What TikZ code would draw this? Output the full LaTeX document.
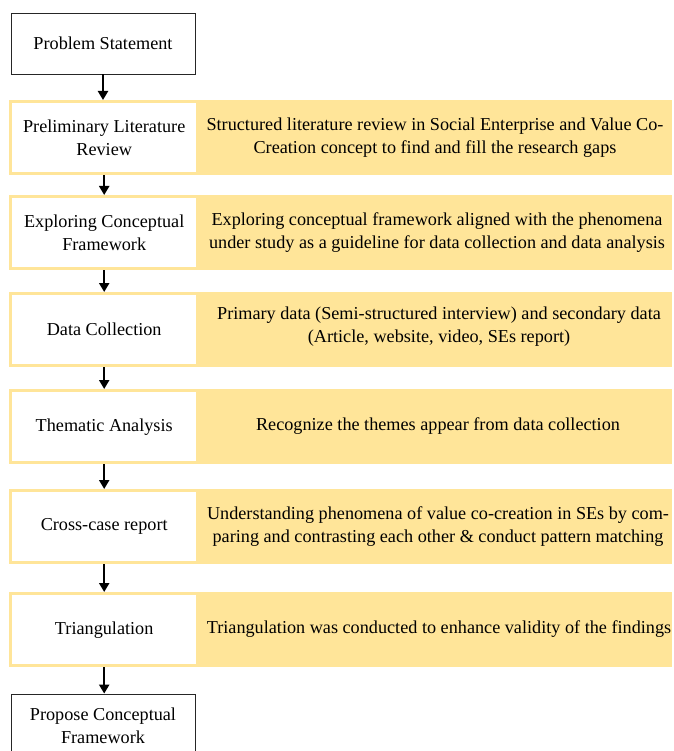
\documentclass[tikz,border=0pt]{standalone}
\usepackage{fontspec}
\setmainfont{Liberation Serif}
\usetikzlibrary{arrows.meta}
\definecolor{bandyellow}{HTML}{FFE599}
\tikzset{
  txt/.style={font=\fontsize{18.2}{23}\selectfont, align=center, text=black},
  band/.style={fill=bandyellow, draw=none, minimum width=663, minimum height=75,
    inner sep=0pt, anchor=north west},
  stepbox/.style={txt, fill=white, draw=none, minimum width=184, minimum height=69,
    inner sep=0pt, anchor=north west},
  endbox/.style={txt, fill=white, draw=black!85, line width=0.9pt, minimum width=184,
    inner sep=0pt},
  desc/.style={txt, inner sep=0pt},
  flow/.style={line width=2.3pt, -{Triangle[length=9pt,width=10pt]}},
}
\begin{document}
\begin{tikzpicture}[x=1pt,y=-1pt]
  \useasboundingbox (0,0) rectangle (673,751);
  \clip (0,0) rectangle (673,751);

  % start box
  \node[endbox, minimum height=61] (ps) at (103,43.5) {Problem Statement};

  % research stages: yellow band, white stage box, description
  \node[band] (band1) at (9,100) {};
  \node[stepbox] (s1) at (12,103) {Preliminary Literature\\Review};
  \node[desc] (d1) at (435,137.5) {Structured literature review in Social Enterprise and Value Co-\\Creation concept to find and fill the research gaps};

  \node[band] (band2) at (9,195) {};
  \node[stepbox] (s2) at (12,198) {Exploring Conceptual\\Framework};
  \node[desc] (d2) at (437,232.5) {Exploring conceptual framework aligned with the phenomena\\under study as a guideline for data collection and data analysis};

  \node[band] (band3) at (9,292) {};
  \node[stepbox] (s3) at (12,295) {Data Collection};
  \node[desc] (d3) at (439,327) {Primary data (Semi-structured interview) and secondary data\\(Article, website, video, SEs report)};

  \node[band] (band4) at (9,389) {};
  \node[stepbox] (s4) at (12,392) {Thematic Analysis};
  \node[desc] (d4) at (438,426.5) {Recognize the themes appear from data collection};

  \node[band] (band5) at (9,489) {};
  \node[stepbox] (s5) at (12,492) {Cross-case report};
  \node[desc] (d5) at (438,526.5) {Understanding phenomena of value co-creation in SEs by com-\\paring and contrasting each other \& conduct pattern matching};

  \node[band] (band6) at (9,592) {};
  \node[stepbox] (s6) at (12,595) {Triangulation};
  \node[desc] (d6) at (439,629.5) {Triangulation was conducted to enhance validity of the findings};

  % final box (runs past the lower edge)
  \node[endbox, minimum height=64] (pcf) at (103,726) {Propose Conceptual\\Framework};

  % flow arrows
  \draw[flow] (ps.south) -- (ps.south |- band1.north);
  \draw[flow] (s1.south |- band1.south) -- (s1.south |- band2.north);
  \draw[flow] (s2.south |- band2.south) -- (s2.south |- band3.north);
  \draw[flow] (s3.south |- band3.south) -- (s3.south |- band4.north);
  \draw[flow] (s4.south |- band4.south) -- (s4.south |- band5.north);
  \draw[flow] (s5.south |- band5.south) -- (s5.south |- band6.north);
  \draw[flow] (s6.south |- band6.south) -- (s6.south |- pcf.north);
\end{tikzpicture}
\end{document}
